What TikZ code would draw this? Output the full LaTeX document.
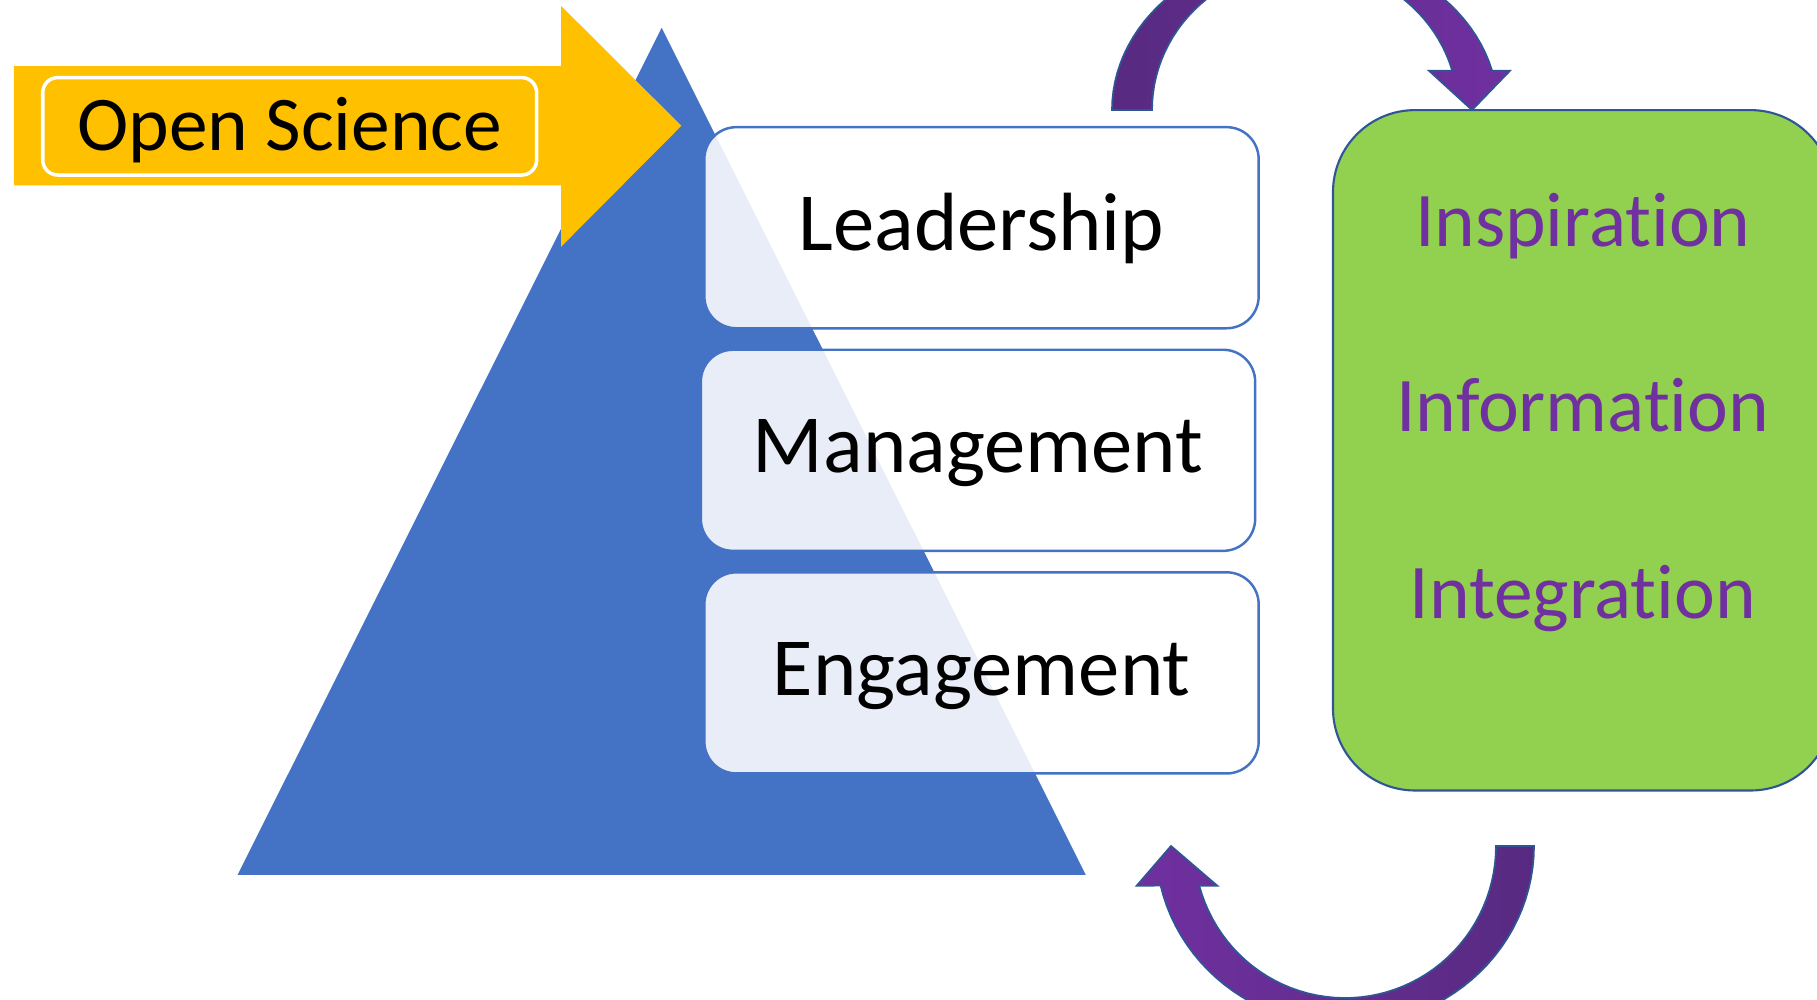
\documentclass[tikz,border=0pt]{standalone}
\usepackage{fontspec}
\setmainfont{Carlito}[Ligatures=NoCommon]
\usetikzlibrary{positioning}
\definecolor{osyellow}{HTML}{FFC000}
\definecolor{pyrblue}{HTML}{4472C4}
\definecolor{edgeblue}{HTML}{2F5597}
\definecolor{loopgreen}{HTML}{92D050}
\definecolor{ipurple}{HTML}{7030A0}
\definecolor{ipurpledark}{HTML}{572A80}
\tikzset{
        layer/.style = {draw=pyrblue, line width=0.7pt, fill=white, fill opacity=0.88, text opacity=1, rectangle, rounded corners=0.32cm, minimum width=5.54cm, minimum height=2.01cm, inner sep=0pt, text height=12.8pt, text depth=0pt, font=\fontsize{23.5}{28}\selectfont},
        loopbox/.style = {draw=edgeblue, line width=0.6pt, fill=loopgreen, rectangle, rounded corners=0.82cm, minimum width=4.994cm, minimum height=6.80cm},
        itext/.style = {text=ipurple, inner sep=0pt, text height=13pt, text depth=0pt, font=\fontsize{22}{26}\selectfont},
        ostag/.style = {draw=white, line width=1pt, rectangle, rounded corners=0.15cm, minimum width=4.936cm, minimum height=0.974cm, inner sep=0pt, text height=13.6pt, text depth=0pt, font=\fontsize{22}{26}\selectfont},
        curvearrow/.style = {draw=edgeblue, line width=0.5pt},
    }

\begin{document}
\begin{tikzpicture}[x=0.01cm, y=-0.01cm, node distance=0.19cm]
    \useasboundingbox (0,0) rectangle (1817,999);

    \coordinate (apex) at (661.7,27.8);
    \coordinate (pyrleft) at (237.6,874.9);
    \coordinate (pyrright) at (1085.8,874.9);
    \fill [pyrblue] (apex) -- (pyrleft) -- (pyrright) -- cycle;

    \fill [osyellow] (13.9,66) -- (561,66) -- (561,5.8) -- (681.4,125.8) -- (561,246.8) -- (561,185.4) -- (13.9,185.4) -- cycle;
    \node [ostag] (openscience) at (289.7,126.3) {Open Science};

    \node [layer] (leadership) at (981.5,227.7) {Leadership};
    \node [layer, below=of leadership, xshift=-0.035cm] (management) {Management};
    \node [layer, below=of management, xshift=0.035cm] (engagement) {Engagement};

    \node [loopbox, right=7.55mm of management] (loop) {};
    \node [itext] (information) at ([yshift=0.417cm]loop.center) {Information};
    \node [itext, above=1.38cm of information] (inspiration) {Inspiration};
    \node [itext, below=1.397cm of information] (integration) {Integration};

    \coordinate (toparc) at (1305,110);
    \coordinate (botarc) at (1345,846);

    \path [curvearrow, shift={(toparc)}, left color=ipurpledark, right color=ipurple]
        plot [domain=180:345.8, samples=50] ({193*cos(\x)},{160*sin(\x)})
        -- (205,-39.3) -- (167,0) -- (124,-39.3)
        -- plot [domain=344.3:180, samples=50] ({153*cos(\x)},{145*sin(\x)}) -- cycle;

    \path [curvearrow, shift={(botarc)}, left color=ipurple, right color=ipurpledark]
        plot [domain=0:167.3, samples=50] ({189*cos(\x)},{180*sin(\x)})
        -- (-208.3,39.7) -- (-174,0) -- (-127.7,39.7)
        -- plot [domain=164.9:0, samples=50] ({151*cos(\x)},{152*sin(\x)}) -- cycle;

\end{tikzpicture}
\end{document}
